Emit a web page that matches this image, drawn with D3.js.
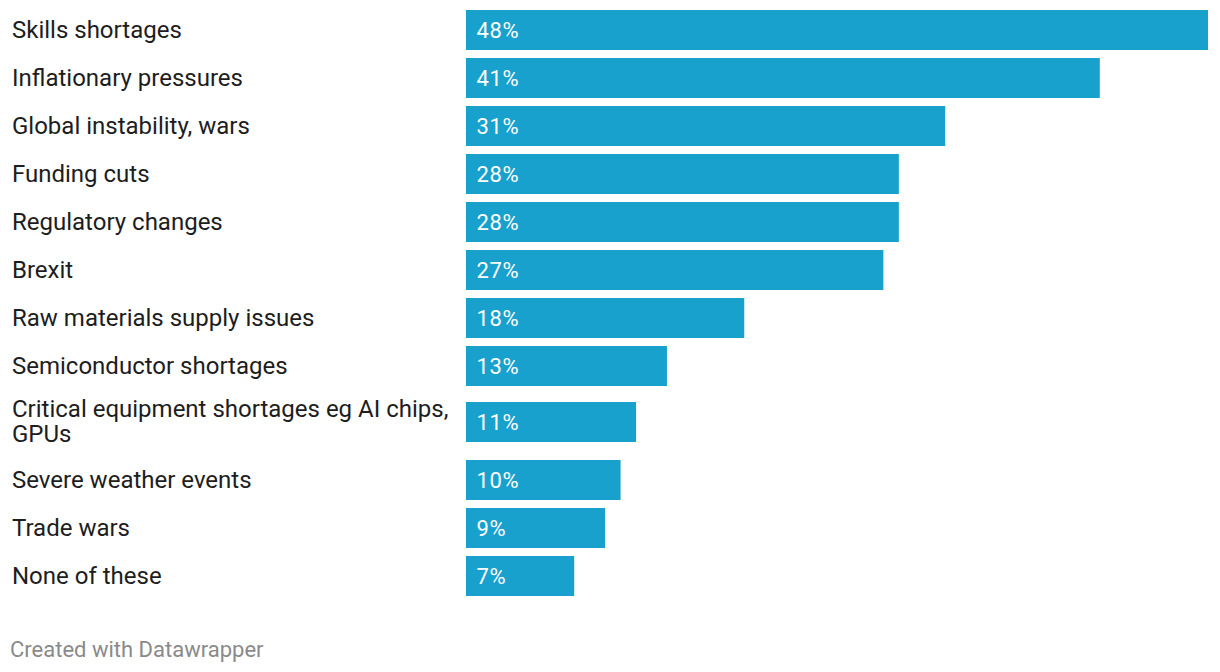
<!DOCTYPE html>
<html>
<head>
<meta charset="utf-8">
<script src="https://cdn.jsdelivr.net/npm/d3@7"></script>
<style>
  html, body { margin: 0; padding: 0; background: #ffffff; }
  svg { display: block; font-family: Roboto, "Noto Sans", sans-serif; }
</style>
</head>
<body>
<svg id="chart" width="1220" height="672"></svg>
<script>
const categories = [
  "Skills shortages",
  "Inflationary pressures",
  "Global instability, wars",
  "Funding cuts",
  "Regulatory changes",
  "Brexit",
  "Raw materials supply issues",
  "Semiconductor shortages",
  "Critical equipment shortages eg AI chips, GPUs",
  "Severe weather events",
  "Trade wars",
  "None of these"
];
const values = [48, 41, 31, 28, 28, 27, 18, 13, 11, 10, 9, 7];
const footerText = "Created with Datawrapper";

(function () {
const svg = d3.select("#chart");
const labelX = 12, barX = 466, barMaxX = 1208, topY = 10;
const barH = 40, rowStep = 48, lineH = 25, labelMaxW = 445;
const fs = 24;

const x = d3.scaleLinear().domain([0, d3.max(values)]).range([barX, barMaxX]);

const labelG = svg.append("g");
const lines = categories.map(c => {
  const words = c.split(" ");
  const t = labelG.append("text").attr("font-size", fs).attr("visibility", "hidden");
  const out = [];
  let cur = [];
  words.forEach(w => {
    cur.push(w);
    t.text(cur.join(" "));
    if (t.node().getComputedTextLength() > labelMaxW && cur.length > 1) {
      cur.pop();
      out.push(cur.join(" "));
      cur = [w];
    }
  });
  out.push(cur.join(" "));
  t.remove();
  return out;
});

const rowHeights = lines.map(l => rowStep + (l.length - 1) * 18);
const rowTops = rowHeights.map((h, i) => topY + d3.sum(rowHeights.slice(0, i)));
const yTop = d3.scaleOrdinal().domain(categories).range(rowTops);
const rowH = d3.scaleOrdinal().domain(categories).range(rowHeights);
const barY = c => yTop(c) + Math.floor((rowH(c) - rowStep) / 2.2);

const rows = categories.map((c, i) => ({ c, v: values[i], lines: lines[i] }));

svg.append("g").selectAll("rect").data(rows).join("rect")
  .attr("x", x(0))
  .attr("y", d => barY(d.c))
  .attr("width", d => x(d.v) - x(0))
  .attr("height", barH)
  .attr("fill", "#18a1cd");

svg.append("g").selectAll("text").data(rows).join("text")
  .attr("x", x(0) + 10.5)
  .attr("y", d => barY(d.c) + barH / 2)
  .attr("dy", "0.36em")
  .attr("font-size", 22)
  .attr("letter-spacing", 0.6)
  .attr("fill", "#ffffff")
  .text(d => d.v + "%");

labelG.selectAll("text").data(rows).join("text")
  .attr("font-size", fs)
  .attr("fill", "#1d1d1d")
  .each(function(d) {
    const cy = barY(d.c) + barH / 2;
    const n = d.lines.length;
    d3.select(this).selectAll("tspan").data(d.lines).join("tspan")
      .attr("x", labelX)
      .attr("y", (l, j) => cy + (j - (n - 1) / 2) * lineH)
      .attr("dy", "0.32em")
      .text(l => l);
  });

svg.append("text")
  .attr("x", 10)
  .attr("y", 657)
  .attr("font-size", 22)
  .attr("fill", "#8a8a8a")
  .text(footerText);
})();
</script>
</body>
</html>
